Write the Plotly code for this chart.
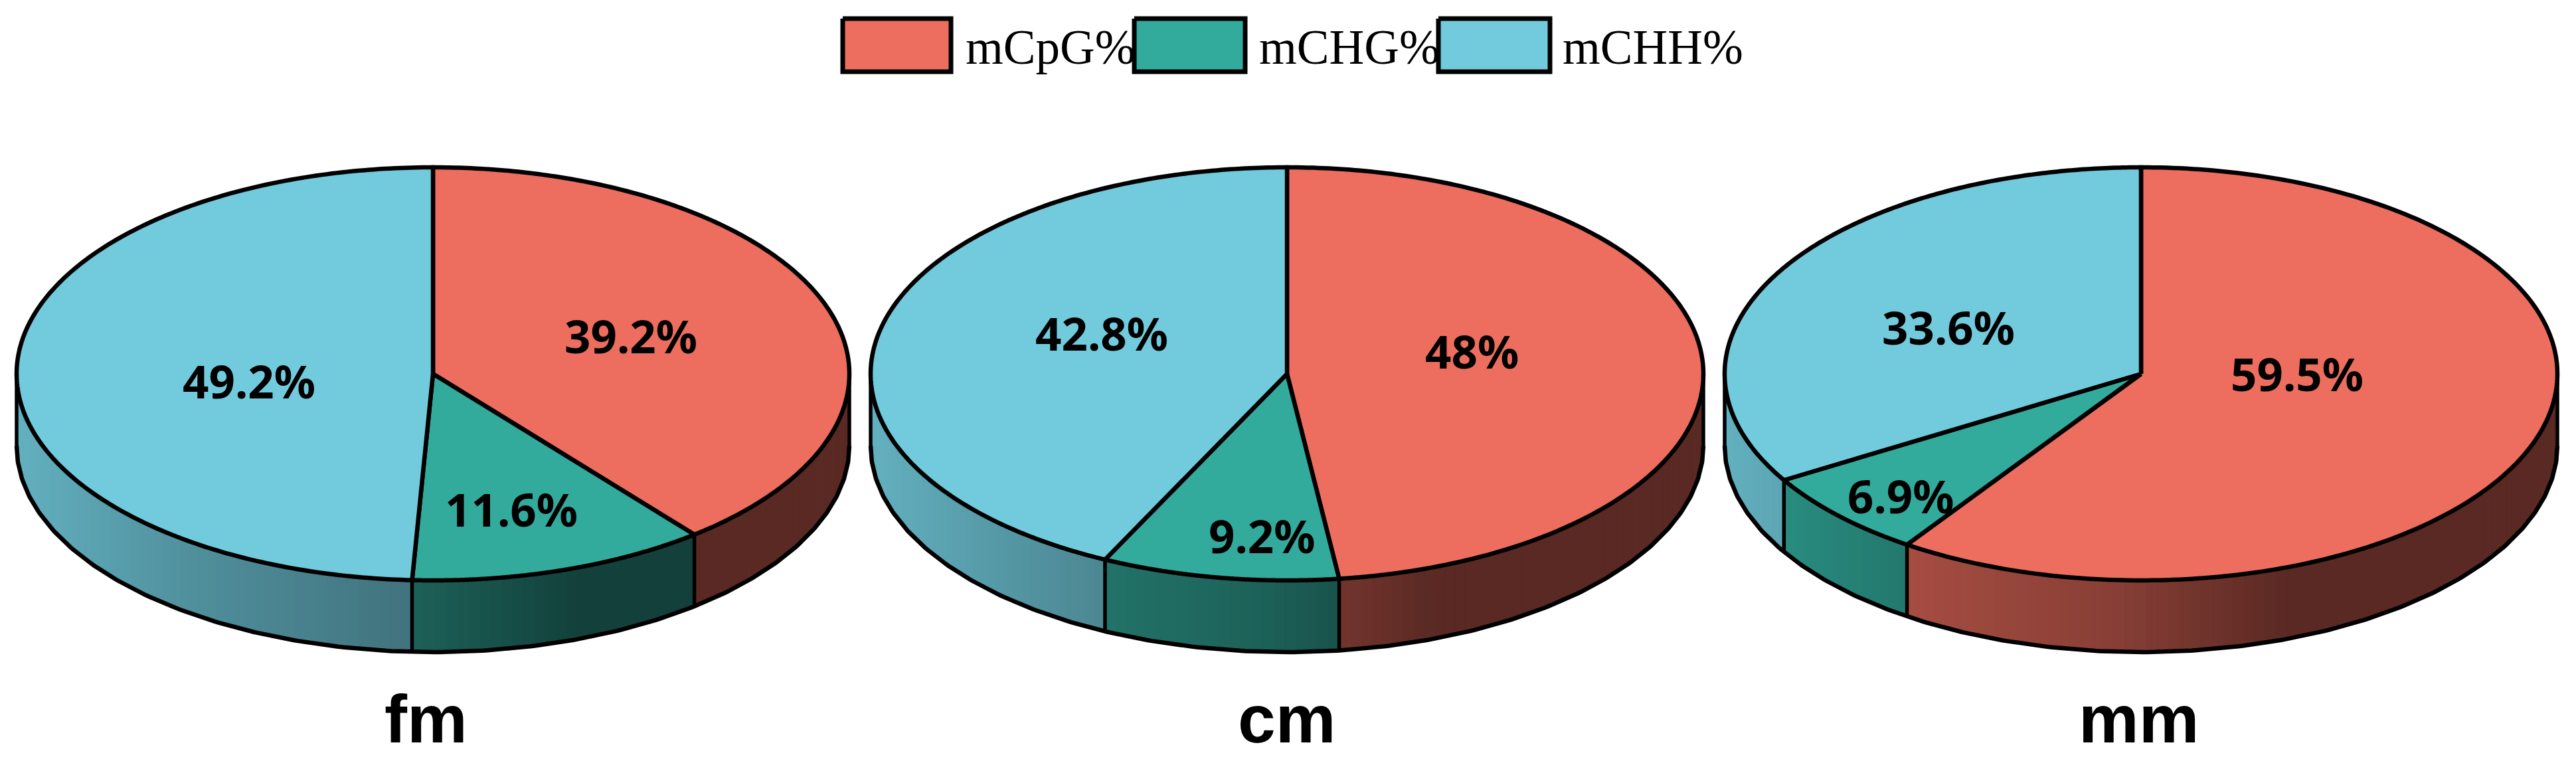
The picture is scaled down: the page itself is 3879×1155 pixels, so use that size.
import numpy as np
import plotly.graph_objects as go

# ---- data ----
series = ["mCpG%", "mCHG%", "mCHH%"]
groups = ["fm", "cm", "mm"]
fm_values = [39.2, 11.6, 49.2]
cm_values = [48.0, 9.2, 42.8]
mm_values = [59.5, 6.9, 33.6]
fm_labels = ["39.2%", "11.6%", "49.2%"]
cm_labels = ["48%", "9.2%", "42.8%"]
mm_labels = ["59.5%", "6.9%", "33.6%"]

# ---- styles / layout ----
W, H = 3879, 1155
COLORS = [(237, 110, 94), (51, 171, 156), (114, 203, 221)]
CX = {"fm": 652, "cm": 1938, "mm": 3224}
CY, RX, RY, DEPTH = 563, 627, 311, 108
LW = 6.5
LABEL_FONT = "Noto Sans"
TITLE_FONT = "Liberation Sans"
LABEL_XY = {
    "fm": [(950, 505), (770, 766), (375, 573)],
    "cm": [(2216, 528), (1900, 806), (1659, 501)],
    "mm": [(3459, 562), (2862, 746), (2934, 492)],
}
TITLE_XY = {"fm": (641, 1083), "cm": (1937, 1083), "mm": (3220, 1083)}
SWATCH_X = [(1269, 1432), (1708, 1875), (2166, 2334)]
SWATCH_Y = (28, 108)
LEGEND_TEXT_X = [1452, 1894, 2351]
LEGEND_TEXT_Y = 71

table = {"fm": (fm_values, fm_labels), "cm": (cm_values, cm_labels), "mm": (mm_values, mm_labels)}
fig = go.Figure()


def ex(cx, t):
    return cx + RX * np.sin(t)


def ey(t):
    return CY - RY * np.cos(t)


def shade(c, xn):
    f = float(np.interp(xn, [-1, -0.55, -0.05, 0.35, 1], [0.87, 0.70, 0.57, 0.38, 0.38]))
    return "rgb(%d,%d,%d)" % tuple(int(v * f) for v in c)


def add(x, y, **kw):
    fig.add_trace(go.Scatter(x=x, y=y, mode="lines", showlegend=False, hoverinfo="skip", **kw))


for g in groups:
    vals, labs = table[g]
    cx = CX[g]
    edges = np.cumsum([0] + vals) / sum(vals) * 2 * np.pi
    # side wall: visible lower half only
    for i, c in enumerate(COLORS):
        a, b = max(edges[i], np.pi / 2), min(edges[i + 1], 3 * np.pi / 2)
        if b <= a:
            continue
        n = max(2, int(np.degrees(b - a) / 1.5))
        ts = np.linspace(a, b, n + 1)
        for t0, t1 in zip(ts[:-1], ts[1:]):
            arc = np.linspace(t0, t1, 4)
            xs = np.r_[ex(cx, arc), ex(cx, arc[::-1])]
            ys = np.r_[ey(arc), ey(arc[::-1]) + DEPTH]
            col = shade(c, np.sin((t0 + t1) / 2))
            add(xs, ys, fill="toself", fillcolor=col, line=dict(color=col, width=1.5))
    # side outline
    arc = np.linspace(np.pi / 2, 3 * np.pi / 2, 300)
    add(ex(cx, arc), ey(arc) + DEPTH, line=dict(color="black", width=LW))
    for t in [np.pi / 2, 3 * np.pi / 2] + [e for e in edges[1:-1] if np.pi / 2 < e < 3 * np.pi / 2]:
        add([ex(cx, t), ex(cx, t)], [ey(t), ey(t) + DEPTH], line=dict(color="black", width=LW - 1))
    # top face
    for i, c in enumerate(COLORS):
        arc = np.linspace(edges[i], edges[i + 1], 240)
        add(np.r_[cx, ex(cx, arc), cx], np.r_[CY, ey(arc), CY], fill="toself",
            fillcolor="rgb(%d,%d,%d)" % c, line=dict(color="black", width=LW, simplify=False))
    # value labels
    for (lx, ly), lab in zip(LABEL_XY[g], labs):
        fig.add_annotation(x=lx, y=ly, text="<b>%s</b>" % lab, showarrow=False,
                           font=dict(family=LABEL_FONT, size=69, color="black"))
    fig.add_annotation(x=TITLE_XY[g][0], y=TITLE_XY[g][1], text="<b>%s</b>" % g, showarrow=False,
                       font=dict(family=TITLE_FONT, size=102, color="black"))

# legend
for s, c, (x0, x1), tx in zip(series, COLORS, SWATCH_X, LEGEND_TEXT_X):
    add([x0, x1, x1, x0, x0], [SWATCH_Y[0], SWATCH_Y[0], SWATCH_Y[1], SWATCH_Y[1], SWATCH_Y[0]],
        fill="toself", fillcolor="rgb(%d,%d,%d)" % c, line=dict(color="black", width=7))
    fig.add_annotation(x=tx, y=LEGEND_TEXT_Y, text=s, showarrow=False, xanchor="left",
                       font=dict(family="Liberation Serif", size=73, color="black"))

fig.update_layout(
    width=W, height=H, margin=dict(l=0, r=0, t=0, b=0), paper_bgcolor="white", plot_bgcolor="white",
    xaxis=dict(range=[0, W], visible=False, fixedrange=True),
    yaxis=dict(range=[H, 0], visible=False, fixedrange=True),
)
fig.write_html("out.html", config={"displayModeBar": False},
               post_script="document.body.style.margin='0';document.body.style.overflow='hidden';")
